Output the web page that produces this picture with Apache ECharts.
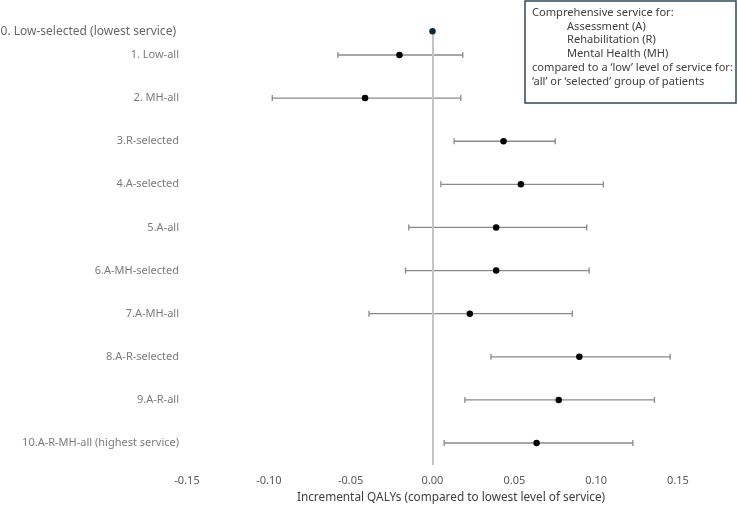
<!DOCTYPE html>
<html>
<head>
<meta charset="utf-8">
<script src="https://cdn.jsdelivr.net/npm/echarts@6/dist/echarts.min.js"></script>
<style>
  html, body { margin: 0; padding: 0; background: #fff; }
  #chart { width: 738px; height: 506px; }
</style>
</head>
<body>
<div id="chart"></div>
<script>
// Scenario labels (top to bottom)
const scenarios = [
  '0. Low-selected (lowest service)',
  '1. Low-all',
  '2. MH-all',
  '3.R-selected',
  '4.A-selected',
  '5.A-all',
  '6.A-MH-selected',
  '7.A-MH-all',
  '8.A-R-selected',
  '9.A-R-all',
  '10.A-R-MH-all (highest service)'
];
// row position on the vertical scale (row 0 sits a bit closer to row 1)
const rowPos = [0.45, 1, 2, 3, 4, 5, 6, 7, 8, 9, 10];
// incremental QALYs: point estimate and interval
const estimate = [0, -0.0202, -0.0412, 0.0434, 0.054, 0.0389, 0.0389, 0.0228, 0.0897, 0.0771, 0.0636];
const lower = [null, -0.0578, -0.0979, 0.0132, 0.0051, -0.0145, -0.0165, -0.0388, 0.0357, 0.0198, 0.0071];
const upper = [null, 0.0185, 0.0173, 0.0750, 0.1044, 0.0942, 0.0957, 0.0854, 0.1452, 0.1356, 0.1224];
const xTicks = { min: -0.15, max: 0.15, step: 0.05 };

const noteLines = [
  { text: 'Comprehensive service for:', indent: false },
  { text: 'Assessment (A)', indent: true },
  { text: 'Rehabilitation (R)', indent: true },
  { text: 'Mental Health (MH)', indent: true },
  { text: 'compared to a \u2018low\u2019 level of service for:', indent: false },
  { text: '\u2018all\u2019 or \u2018selected\u2019 group of patients', indent: false }
];

const FONT = 'Noto Sans';
const chart = echarts.init(document.getElementById('chart'));

const barData = [];
rowPos.forEach((y, i) => {
  if (lower[i] != null) barData.push([lower[i], upper[i], y]);
});

const labelData = scenarios.map((name, i) => ({
  value: [xTicks.min, rowPos[i]],
  name: name,
  label: i === 0 ? { fontSize: 12, color: '#404040', distance: 11 } : undefined
}));

const noteGraphics = [{
  type: 'rect',
  shape: { x: 525, y: 1, width: 211, height: 102 },
  style: { fill: '#fff', stroke: '#2f4858', lineWidth: 1.5 }
}];
noteLines.forEach((l, i) => {
  noteGraphics.push({
    type: 'text',
    x: l.indent ? 567 : 532,
    y: 12.5 + i * 13.9,
    style: {
      text: l.text, fill: '#404040', font: '11.1px "' + FONT + '"',
      textVerticalAlign: 'middle'
    }
  });
});

const option = {
  animation: false,
  grid: { left: 187, right: 60, top: 30, bottom: 41 },
  xAxis: {
    type: 'value',
    min: xTicks.min, max: xTicks.max, interval: xTicks.step,
    axisLine: { show: false },
    axisTick: { show: false },
    splitLine: { show: false },
    axisLabel: {
      color: '#595959', fontSize: 11, fontFamily: FONT, margin: 10,
      formatter: (v) => v.toFixed(2)
    }
  },
  yAxis: {
    type: 'value', inverse: true, min: 0.42, max: 10.51, show: false
  },
  graphic: [
    {
      type: 'text', x: 451, y: 498,
      style: {
        text: 'Incremental QALYs (compared to lowest level of service)',
        fill: '#404040', font: '11.8px "' + FONT + '"',
        textAlign: 'center', textVerticalAlign: 'middle'
      }
    },
    ...noteGraphics
  ],
  series: [
    {
      // zero reference line
      type: 'scatter', data: [], silent: true,
      markLine: {
        symbol: 'none', silent: true, label: { show: false },
        lineStyle: { color: '#c4c4c4', width: 2, type: 'solid' },
        data: [{ xAxis: 0 }]
      }
    },
    {
      type: 'custom',
      data: barData,
      z: 3,
      renderItem: (params, api) => {
        const y = api.value(2);
        const p1 = api.coord([api.value(0), y]);
        const p2 = api.coord([api.value(1), y]);
        const cap = 3;
        const st = { stroke: '#8a8a8a', lineWidth: 1.3 };
        return {
          type: 'group',
          children: [
            { type: 'line', shape: { x1: p1[0], y1: p1[1], x2: p2[0], y2: p2[1] }, style: st },
            { type: 'line', shape: { x1: p1[0], y1: p1[1] - cap, x2: p1[0], y2: p1[1] + cap }, style: st },
            { type: 'line', shape: { x1: p2[0], y1: p2[1] - cap, x2: p2[0], y2: p2[1] + cap }, style: st }
          ]
        };
      }
    },
    {
      type: 'scatter',
      z: 5,
      symbolSize: 6.5,
      data: estimate.map((v, i) => ({
        value: [v, rowPos[i]],
        itemStyle: { color: i === 0 ? '#0b2a3c' : '#000', opacity: 1 }
      }))
    },
    {
      // row labels, placed left of the plot
      type: 'scatter',
      symbolSize: 0,
      silent: true,
      clip: false,
      data: labelData,
      label: {
        show: true, position: 'left', distance: 8,
        formatter: (p) => p.name,
        color: '#595959', fontSize: 11, fontFamily: FONT
      }
    }
  ]
};

chart.setOption(option);
</script>
</body>
</html>
